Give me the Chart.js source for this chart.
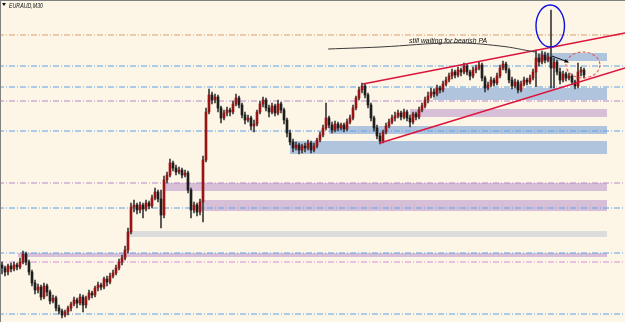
<!DOCTYPE html>
<html>
<head>
<meta charset="utf-8">
<script src="https://cdn.jsdelivr.net/npm/chart.js@4.4.1/dist/chart.umd.min.js"></script>
<style>
html,body{margin:0;padding:0;background:#fdf5e6;}
#wrap{position:relative;width:625px;height:322px;background:#fdf5e6;}
</style>
</head>
<body>
<div id="wrap"><canvas id="c"></canvas></div>
<script>
// ---- DATA (EURAUD, M30 candles) ----
const symbolTitle = 'EURAUD,M30';
const noteText = 'still waiting for bearish PA';

const open = [
1.5735,1.5732,1.5728,1.5734,1.5731,1.5735,1.5733,1.5738,1.5746,1.5738,
1.5728,1.5717,1.5710,1.5713,1.5703,1.5714,1.5708,1.5699,1.5702,1.5692,
1.5689,1.5685,1.5688,1.5692,1.5696,1.5700,1.5697,1.5703,1.5695,1.5702,
1.5707,1.5705,1.5712,1.5715,1.5713,1.5721,1.5718,1.5724,1.5727,1.5732,
1.5738,1.5742,1.5750,1.5768,1.5793,1.5795,1.5790,1.5795,1.5791,1.5797,
1.5794,1.5802,1.5808,1.5801,1.5785,1.5820,1.5825,1.5837,1.5832,1.5828,
1.5830,1.5825,1.5827,1.5810,1.5790,1.5795,1.5788,1.5798,1.5840,1.5888,
1.5905,1.5900,1.5903,1.5892,1.5882,1.5887,1.5890,1.5888,1.5896,1.5902,
1.5895,1.5885,1.5880,1.5882,1.5874,1.5876,1.5888,1.5896,1.5900,1.5892,
1.5888,1.5894,1.5887,1.5896,1.5890,1.5880,1.5867,1.5858,1.5852,1.5855,
1.5850,1.5854,1.5852,1.5857,1.5850,1.5854,1.5860,1.5865,1.5872,1.5882,
1.5875,1.5870,1.5876,1.5872,1.5875,1.5871,1.5878,1.5882,1.5892,1.5902,
1.5910,1.5914,1.5905,1.5895,1.5882,1.5872,1.5864,1.5859,1.5868,1.5874,
1.5878,1.5882,1.5884,1.5887,1.5883,1.5888,1.5882,1.5878,1.5886,1.5883,
1.5890,1.5894,1.5900,1.5904,1.5908,1.5906,1.5912,1.5910,1.5916,1.5920,
1.5924,1.5928,1.5925,1.5930,1.5928,1.5934,1.5928,1.5924,1.5930,1.5932,
1.5935,1.5922,1.5912,1.5915,1.5920,1.5917,1.5924,1.5932,1.5936,1.5930,
1.5920,1.5914,1.5918,1.5910,1.5916,1.5920,1.5918,1.5922,1.5928,1.5942,
1.5938,1.5945,1.5940,1.5943,1.5932,1.5938,1.5928,1.5920,1.5926,1.5922,
1.5924,1.5918,1.5914,1.5928,1.5930];

const high = [
1.5738,1.5734,1.5736,1.5737,1.5738,1.5737,1.5742,1.5749,1.5748,1.5740,
1.5730,1.5720,1.5716,1.5715,1.5717,1.5716,1.5710,1.5705,1.5704,1.5695,
1.5691,1.5690,1.5694,1.5698,1.5703,1.5702,1.5706,1.5705,1.5704,1.5710,
1.5709,1.5714,1.5718,1.5717,1.5723,1.5724,1.5727,1.5730,1.5735,1.5741,
1.5745,1.5754,1.5772,1.5797,1.5800,1.5797,1.5798,1.5797,1.5800,1.5799,
1.5805,1.5812,1.5810,1.5810,1.5824,1.5828,1.5841,1.5839,1.5835,1.5833,
1.5832,1.5830,1.5829,1.5812,1.5798,1.5797,1.5801,1.5844,1.5892,1.5911,
1.5908,1.5906,1.5905,1.5894,1.5890,1.5893,1.5892,1.5899,1.5906,1.5904,
1.5897,1.5888,1.5885,1.5884,1.5880,1.5890,1.5899,1.5903,1.5902,1.5895,
1.5897,1.5896,1.5900,1.5898,1.5892,1.5882,1.5870,1.5861,1.5858,1.5857,
1.5856,1.5857,1.5860,1.5859,1.5857,1.5862,1.5868,1.5875,1.5897,1.5884,
1.5878,1.5879,1.5878,1.5877,1.5877,1.5881,1.5885,1.5895,1.5904,1.5913,
1.5917,1.5916,1.5907,1.5897,1.5884,1.5875,1.5867,1.5870,1.5877,1.5881,
1.5885,1.5888,1.5890,1.5889,1.5891,1.5890,1.5885,1.5888,1.5888,1.5893,
1.5897,1.5903,1.5908,1.5912,1.5911,1.5915,1.5914,1.5919,1.5923,1.5927,
1.5931,1.5930,1.5933,1.5932,1.5937,1.5936,1.5930,1.5933,1.5935,1.5938,
1.5937,1.5924,1.5918,1.5923,1.5922,1.5927,1.5935,1.5939,1.5938,1.5932,
1.5923,1.5921,1.5920,1.5919,1.5923,1.5922,1.5925,1.5931,1.5950,1.5946,
1.5949,1.5948,1.5947,1.5990,1.5942,1.5940,1.5932,1.5929,1.5928,1.5927,
1.5926,1.5920,1.5937,1.5933,1.5932];

const low = [
1.5726,1.5724,1.5725,1.5728,1.5729,1.5730,1.5731,1.5736,1.5735,1.5725,
1.5714,1.5706,1.5707,1.5700,1.5701,1.5704,1.5696,1.5697,1.5689,1.5686,
1.5682,1.5683,1.5685,1.5689,1.5694,1.5692,1.5695,1.5688,1.5692,1.5700,
1.5702,1.5703,1.5709,1.5710,1.5711,1.5714,1.5716,1.5722,1.5725,1.5730,
1.5735,1.5740,1.5747,1.5766,1.5788,1.5786,1.5787,1.5782,1.5789,1.5791,
1.5792,1.5800,1.5798,1.5772,1.5782,1.5817,1.5823,1.5829,1.5825,1.5826,
1.5822,1.5823,1.5807,1.5782,1.5787,1.5784,1.5785,1.5778,1.5838,1.5886,
1.5896,1.5897,1.5888,1.5877,1.5880,1.5884,1.5884,1.5886,1.5894,1.5892,
1.5882,1.5876,1.5878,1.5870,1.5868,1.5874,1.5886,1.5893,1.5889,1.5883,
1.5886,1.5884,1.5885,1.5887,1.5876,1.5863,1.5855,1.5848,1.5850,1.5846,
1.5847,1.5848,1.5850,1.5847,1.5848,1.5852,1.5858,1.5863,1.5870,1.5872,
1.5867,1.5868,1.5869,1.5870,1.5868,1.5869,1.5876,1.5880,1.5890,1.5900,
1.5907,1.5902,1.5892,1.5879,1.5869,1.5861,1.5856,1.5857,1.5866,1.5872,
1.5876,1.5879,1.5882,1.5880,1.5881,1.5879,1.5873,1.5876,1.5880,1.5881,
1.5888,1.5892,1.5897,1.5902,1.5903,1.5904,1.5907,1.5908,1.5914,1.5918,
1.5921,1.5922,1.5923,1.5924,1.5926,1.5925,1.5920,1.5922,1.5927,1.5930,
1.5919,1.5908,1.5910,1.5913,1.5914,1.5915,1.5922,1.5930,1.5927,1.5917,
1.5911,1.5912,1.5907,1.5908,1.5914,1.5915,1.5916,1.5920,1.5913,1.5934,
1.5936,1.5937,1.5938,1.5912,1.5912,1.5925,1.5916,1.5918,1.5919,1.5920,
1.5915,1.5911,1.5912,1.5924,1.5922];

const close = [
1.5732,1.5728,1.5734,1.5731,1.5735,1.5733,1.5738,1.5746,1.5738,1.5728,
1.5717,1.5710,1.5713,1.5703,1.5714,1.5708,1.5699,1.5702,1.5692,1.5689,
1.5685,1.5688,1.5692,1.5696,1.5700,1.5697,1.5703,1.5695,1.5702,1.5707,
1.5705,1.5712,1.5715,1.5713,1.5721,1.5718,1.5724,1.5727,1.5732,1.5738,
1.5742,1.5750,1.5768,1.5793,1.5795,1.5790,1.5795,1.5791,1.5797,1.5794,
1.5802,1.5808,1.5801,1.5785,1.5820,1.5825,1.5837,1.5832,1.5828,1.5830,
1.5825,1.5827,1.5810,1.5790,1.5795,1.5788,1.5798,1.5840,1.5888,1.5905,
1.5900,1.5903,1.5892,1.5882,1.5887,1.5890,1.5888,1.5896,1.5902,1.5895,
1.5885,1.5880,1.5882,1.5874,1.5876,1.5888,1.5896,1.5900,1.5892,1.5888,
1.5894,1.5887,1.5896,1.5890,1.5880,1.5867,1.5858,1.5852,1.5855,1.5850,
1.5854,1.5852,1.5857,1.5850,1.5854,1.5860,1.5865,1.5872,1.5882,1.5875,
1.5870,1.5876,1.5872,1.5875,1.5871,1.5878,1.5882,1.5892,1.5902,1.5910,
1.5914,1.5905,1.5895,1.5882,1.5872,1.5864,1.5859,1.5868,1.5874,1.5878,
1.5882,1.5884,1.5887,1.5883,1.5888,1.5882,1.5878,1.5886,1.5883,1.5890,
1.5894,1.5900,1.5904,1.5908,1.5906,1.5912,1.5910,1.5916,1.5920,1.5924,
1.5928,1.5925,1.5930,1.5928,1.5934,1.5928,1.5924,1.5930,1.5932,1.5935,
1.5922,1.5912,1.5915,1.5920,1.5917,1.5924,1.5932,1.5936,1.5930,1.5920,
1.5914,1.5918,1.5910,1.5916,1.5920,1.5918,1.5922,1.5928,1.5942,1.5938,
1.5945,1.5940,1.5943,1.5932,1.5938,1.5928,1.5920,1.5926,1.5922,1.5924,
1.5918,1.5914,1.5928,1.5930,1.5925];

// horizontal levels (price) and their kind
const levelPrices = [1.5965, 1.5934, 1.5913, 1.5899, 1.5869, 1.5817, 1.5792, 1.5747, 1.5738, 1.5686];
const levelKinds  = ['orange','blue','blue','purple','blue','purple','blue','blue','pink','blue'];

// zones: start bar, end bar, top price, bottom price, kind
const zoneStart  = [178.3, 143.7, 136, 109, 96, 54, 66.3, 42, 5.3];
const zoneEnd    = [201.7, 201.7, 201.7, 201.7, 201.7, 201.7, 201.7, 201.7, 201.7];
const zoneTop    = [1.5947, 1.5912, 1.5891, 1.5874, 1.5859, 1.5817, 1.5800, 1.5769, 1.5747];
const zoneBottom = [1.5939, 1.5900, 1.5883, 1.5866, 1.5846, 1.5809, 1.5789, 1.5763, 1.5743];
const zoneKinds  = ['blue','blue','purple','blue','blue','purple','purple','grey','purple'];

// channel trend lines (bar, price)
const upperLineBars = [120.3, 207.7];
const upperLinePrices = [1.5916, 1.5967];
const lowerLineBars = [126, 207.7];
const lowerLinePrices = [1.5857, 1.5932];

// hand-drawn curve under the note
const curveBars = [108.7, 126, 150.3, 166, 177.7];
const curvePrices = [1.5951, 1.5953, 1.5957, 1.5954, 1.5948];

// arrow, ellipse, dashed circle (bar / price extents)
const arrowBars = [183.3, 188.7];
const arrowPrices = [1.5944, 1.5938];
const ellipseBars = [178, 187.5];
const ellipsePrices = [1.5995, 1.5953];
const circleBars = [188, 199.3];
const circlePrices = [1.5948, 1.5922];

const noteBar = 135.7, notePrice = 1.5957;

// ---- STYLES ----
const LEVEL_COLORS = {orange:'#d9a070', blue:'#5aa2e8', purple:'#b58ac8', pink:'#d78fdc'};
const ZONE_COLORS = {blue:'#b0c4de', purple:'#d8bfd8', grey:'#dcdcdc'};
const BULL = '#971414', BEAR = '#1e1e1e', WICK = '#3a3a3a';
const TREND = '#dc143c';

const idx = open.map((_, i) => i);
const wickData = idx.map(i => ({x: i, y: [low[i], high[i]]}));
const bodyData = idx.map(i => ({x: i, y: [open[i], close[i]]}));
const bodyColors = idx.map(i => close[i] >= open[i] ? BULL : BEAR);

const X_MIN = -2/3, X_MAX = (625 - 2) / 3;

const levelSets = levelPrices.map((p, k) => ({
  type: 'line',
  data: [{x: -5, y: p}, {x: 215, y: p}],
  borderColor: LEVEL_COLORS[levelKinds[k]],
  borderWidth: 1,
  borderDash: [6, 2, 1, 2],
  pointRadius: 0,
  order: 5
}));

const trendSets = [
  {bars: upperLineBars, prices: upperLinePrices},
  {bars: lowerLineBars, prices: lowerLinePrices}
].map(t => ({
  type: 'line',
  data: t.bars.map((b, j) => ({x: b, y: t.prices[j]})),
  borderColor: TREND,
  borderWidth: 1.6,
  pointRadius: 0,
  order: 0
}));

const curveSet = {
  type: 'line',
  data: curveBars.map((b, j) => ({x: b, y: curvePrices[j]})),
  borderColor: '#3a3a3a',
  borderWidth: 1,
  tension: 0.4,
  pointRadius: 0,
  order: 0
};

const wickSet = {
  type: 'bar',
  data: wickData,
  backgroundColor: WICK,
  barThickness: 1,
  grouped: false,
  borderWidth: 0,
  order: 3
};
const bodySet = {
  type: 'bar',
  data: bodyData,
  backgroundColor: bodyColors,
  barThickness: 2,
  minBarLength: 1,
  grouped: false,
  borderWidth: 0,
  order: 2
};

function fitText(ctx, text, x, y, width, font, color) {
  ctx.save();
  ctx.font = font;
  ctx.fillStyle = color;
  ctx.textBaseline = 'alphabetic';
  const w = ctx.measureText(text).width;
  ctx.translate(x, y);
  ctx.scale(width / w, 1);
  ctx.fillText(text, 0, 0);
  ctx.restore();
}

const overlay = {
  id: 'overlay',
  beforeDatasetsDraw(chart) {
    const {ctx, scales: {x, y}} = chart;
    ctx.save();
    zoneStart.forEach((s, k) => {
      const l = x.getPixelForValue(s), r = x.getPixelForValue(zoneEnd[k]);
      const t = y.getPixelForValue(zoneTop[k]), b = y.getPixelForValue(zoneBottom[k]);
      ctx.fillStyle = ZONE_COLORS[zoneKinds[k]];
      ctx.fillRect(Math.round(l), Math.round(t), Math.round(r - l), Math.round(b - t));
    });
    ctx.restore();
  },
  afterDatasetsDraw(chart) {
    const {ctx, scales: {x, y}} = chart;
    ctx.save();
    // blue ellipse
    let cx = (x.getPixelForValue(ellipseBars[0]) + x.getPixelForValue(ellipseBars[1])) / 2;
    let cy = (y.getPixelForValue(ellipsePrices[0]) + y.getPixelForValue(ellipsePrices[1])) / 2;
    let rx = Math.abs(x.getPixelForValue(ellipseBars[1]) - x.getPixelForValue(ellipseBars[0])) / 2;
    let ry = Math.abs(y.getPixelForValue(ellipsePrices[1]) - y.getPixelForValue(ellipsePrices[0])) / 2;
    ctx.strokeStyle = '#1010e0';
    ctx.lineWidth = 1.4;
    ctx.beginPath(); ctx.ellipse(cx, cy, rx, ry, 0, 0, Math.PI * 2); ctx.stroke();
    // dashed red circle
    cx = (x.getPixelForValue(circleBars[0]) + x.getPixelForValue(circleBars[1])) / 2;
    cy = (y.getPixelForValue(circlePrices[0]) + y.getPixelForValue(circlePrices[1])) / 2;
    rx = Math.abs(x.getPixelForValue(circleBars[1]) - x.getPixelForValue(circleBars[0])) / 2;
    ry = Math.abs(y.getPixelForValue(circlePrices[1]) - y.getPixelForValue(circlePrices[0])) / 2;
    ctx.strokeStyle = '#e35a5a';
    ctx.lineWidth = 1.1;
    ctx.setLineDash([3, 2]);
    ctx.beginPath(); ctx.ellipse(cx, cy, rx, ry, 0, 0, Math.PI * 2); ctx.stroke();
    ctx.setLineDash([]);
    // arrow
    const ax0 = x.getPixelForValue(arrowBars[0]), ay0 = y.getPixelForValue(arrowPrices[0]);
    const ax1 = x.getPixelForValue(arrowBars[1]), ay1 = y.getPixelForValue(arrowPrices[1]);
    ctx.strokeStyle = '#111'; ctx.fillStyle = '#111'; ctx.lineWidth = 1;
    ctx.beginPath(); ctx.moveTo(ax0, ay0); ctx.lineTo(ax1, ay1); ctx.stroke();
    const ang = Math.atan2(ay1 - ay0, ax1 - ax0);
    ctx.beginPath();
    ctx.moveTo(ax1 + 1, ay1 + 0.4);
    ctx.lineTo(ax1 - 4 * Math.cos(ang - 0.5), ay1 - 4 * Math.sin(ang - 0.5));
    ctx.lineTo(ax1 - 4 * Math.cos(ang + 0.5), ay1 - 4 * Math.sin(ang + 0.5));
    ctx.closePath(); ctx.fill();
    // note text
    fitText(ctx, noteText, x.getPixelForValue(noteBar), y.getPixelForValue(notePrice), 78,
      'italic 7px "Liberation Sans", Arial, sans-serif', '#111');
    ctx.restore();
  },
  afterDraw(chart) {
    const {ctx, chartArea} = chart;
    ctx.save();
    ctx.fillStyle = '#808080';
    ctx.fillRect(chartArea.left, chartArea.top, chartArea.right - chartArea.left, 1);
    ctx.fillRect(chartArea.left, chartArea.top, 1, chartArea.bottom - chartArea.top);
    // title with small triangle
    ctx.fillStyle = '#111';
    ctx.beginPath();
    ctx.moveTo(chartArea.left + 2, chartArea.top + 3);
    ctx.lineTo(chartArea.left + 6, chartArea.top + 3);
    ctx.lineTo(chartArea.left + 4, chartArea.top + 6);
    ctx.closePath(); ctx.fill();
    fitText(ctx, symbolTitle, chartArea.left + 9, chartArea.top + 8, 34,
      'italic 7px "Liberation Sans", Arial, sans-serif', '#111');
    ctx.restore();
  }
};

new Chart(document.getElementById('c'), {
  type: 'bar',
  data: { datasets: [...levelSets, wickSet, bodySet, curveSet, ...trendSets] },
  options: {
    responsive: true,
    maintainAspectRatio: false,
    animation: false,
    devicePixelRatio: 1,
    events: [],
    layout: { padding: 0 },
    plugins: { legend: { display: false }, tooltip: { enabled: false }, title: { display: false } },
    scales: {
      x: { type: 'linear', min: X_MIN, max: X_MAX, display: false, offset: false },
      y: { type: 'linear', min: 1.5678, max: 1.6000, display: false }
    }
  },
  plugins: [overlay]
});
</script>
</body>
</html>
